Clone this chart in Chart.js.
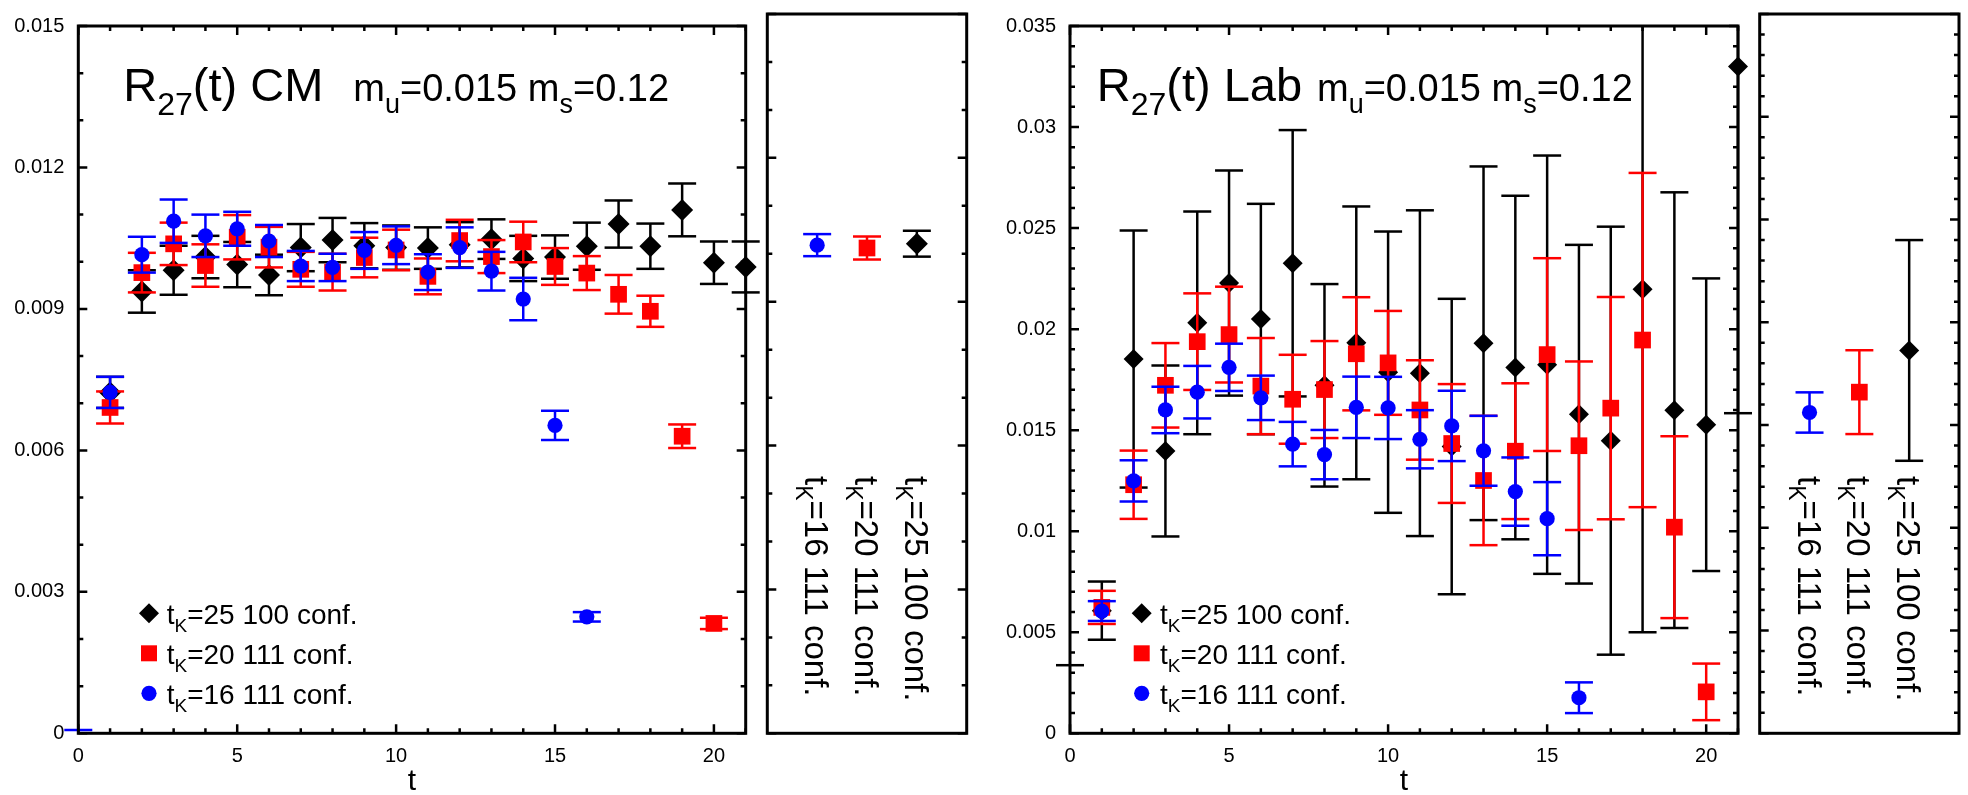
<!DOCTYPE html>
<html><head><meta charset="utf-8">
<script src="https://cdn.jsdelivr.net/npm/chart.js@4.4.1/dist/chart.umd.min.js"></script>
<style>
html,body{margin:0;padding:0;background:#ffffff;}
#wrap{position:relative;width:1968px;height:795px;overflow:hidden;}
#wrap canvas{position:absolute;left:0;top:0;}
</style></head><body>
<div id="wrap">
<canvas id="cmMain" width="1968" height="795"></canvas>
<canvas id="cmSide" width="1968" height="795"></canvas>
<canvas id="labMain" width="1968" height="795"></canvas>
<canvas id="labSide" width="1968" height="795"></canvas>
</div>
<script>
// ---------------- data ----------------
const tValues = [0,1,2,3,4,5,6,7,8,9,10,11,12,13,14,15,16,17,18,19,20,21];
const seriesNames = ["t_K=25 100 conf.", "t_K=20 111 conf.", "t_K=16 111 conf."];

// R27(t) CM, m_u=0.015 m_s=0.12
const cmTk25Val = [null,0.00723,0.00937,0.00982,0.0101,0.00994,0.00972,0.0103,0.01046,0.01034,0.0103,0.01029,0.01036,0.01048,0.01007,0.0101,0.01033,0.0108,0.01033,0.0111,0.00998,0.00989];
const cmTk25Err = [null,0.00033,0.00045,0.00052,0.00045,0.00048,0.00043,0.0005,0.00047,0.00048,0.00047,0.00044,0.00048,0.00042,0.00048,0.00046,0.0005,0.0005,0.00048,0.00056,0.00045,0.00054];
const cmTk20Val = [null,0.00691,0.00977,0.01038,0.00992,0.01052,0.01031,0.00984,0.00978,0.01009,0.01025,0.00969,0.01045,0.01011,0.01042,0.0099,0.00976,0.00931,0.00895,0.0063,0.00233,null];
const cmTk20Err = [null,0.00034,0.00042,0.00045,0.00045,0.00047,0.00043,0.00037,0.00039,0.00042,0.00043,0.00038,0.00044,0.00035,0.00043,0.00039,0.00036,0.00041,0.00033,0.00025,0.00012,null];
const cmTk16Val = [null,0.00723,0.01015,0.01086,0.01055,0.0107,0.01044,0.00991,0.00988,0.01024,0.01035,0.00978,0.0103,0.0098,0.00921,0.00653,0.00247,null,null,null,null,null];
const cmTk16Err = [null,0.00033,0.00038,0.00046,0.00045,0.00036,0.00034,0.00032,0.00029,0.00039,0.0004,0.00038,0.00043,0.00041,0.00045,0.00031,0.0001,null,null,null,null,null];
// upper error caps of off-scale points (marker below the axis)
const cmTk16OffscaleT = [0];
const cmTk16OffscaleHi = [0.00007];

// fit results (side panel): order tK=16, tK=20, tK=25
const sidePositions = [1, 2, 3];
const sideLabels = ["t_K=16 111 conf.", "t_K=20 111 conf.", "t_K=25 100 conf."];
const cmFitVal = [0.01018, 0.01012, 0.01021];
const cmFitErr = [0.00023, 0.00024, 0.00027];

// R27(t) Lab, m_u=0.015 m_s=0.12
const labTk25Val = [null,0.00607,0.01852,0.01397,0.02031,0.02228,0.0205,0.02326,0.01722,0.01932,0.01787,0.01782,0.01419,0.0193,0.0181,0.01824,0.01579,0.01448,0.02197,0.01599,0.01527,0.033];
const labTk25Err = [null,0.00144,0.00636,0.00423,0.00551,0.00557,0.0057,0.00659,0.00501,0.00675,0.00696,0.00806,0.00731,0.00875,0.0085,0.01035,0.00838,0.01059,0.01697,0.01078,0.00724,0.01716];
const labTk20Val = [null,0.00623,0.0123,0.01722,0.01938,0.01973,0.01718,0.01653,0.01701,0.01878,0.01833,0.016,0.01434,0.01251,0.01396,0.01874,0.01423,0.01609,0.01946,0.0102,0.00205,null];
const labTk20Err = [null,0.00082,0.00169,0.00209,0.00239,0.00237,0.00238,0.0022,0.0024,0.0028,0.00257,0.00246,0.00294,0.0032,0.00336,0.00477,0.00417,0.0055,0.00827,0.0045,0.0014,null];
const labTk16Val = [null,0.00605,0.01249,0.016,0.01688,0.01811,0.0166,0.01431,0.01379,0.01613,0.0161,0.01455,0.01521,0.01398,0.01196,0.01062,0.00176,null,null,null,null,null];
const labTk16Err = [null,0.00049,0.00102,0.00115,0.0013,0.00117,0.0011,0.0011,0.00122,0.00152,0.00154,0.00144,0.00174,0.00173,0.00169,0.00181,0.00076,null,null,null,null,null];
const labTk25OffscaleT = [0];
const labTk25OffscaleHi = [0.00337];
const labFitVal = [0.01561, 0.0166, 0.01863];
const labFitErr = [0.00098, 0.00204, 0.00537];

// axes
const xTickVals = [0, 5, 10, 15, 20];
const xTickLabels = ["0", "5", "10", "15", "20"];
const cmYTickVals = [0, 0.003, 0.006, 0.009, 0.012, 0.015];
const cmYTickLabels = ["0", "0.003", "0.006", "0.009", "0.012", "0.015"];
const labYTickVals = [0, 0.005, 0.01, 0.015, 0.02, 0.025, 0.03, 0.035];
const labYTickLabels = ["0", "0.005", "0.01", "0.015", "0.02", "0.025", "0.03", "0.035"];

// ---------------- drawing ----------------
const FONT = '"Liberation Sans", Arial, Helvetica, sans-serif';
const BLACK = '#000000', RED = '#ff0000', BLUE = '#0000ff';
const W = 1968, H = 795;

function pts(xs, vals, errs) {
  const out = [];
  xs.forEach((x, i) => { if (vals[i] !== null && vals[i] !== undefined) out.push({x: x, y: vals[i], e: errs[i]}); });
  return out;
}

function richText(ctx, x, y, parts) {
  let cx = x;
  for (const p of parts) {
    ctx.font = p.size + 'px ' + FONT;
    ctx.fillText(p.t, cx, y + (p.dy || 0));
    cx += ctx.measureText(p.t).width;
  }
  return cx;
}
function subParts(label, size, subSize, dy) {
  const m = label.match(/^(.*?)_(.)(.*)$/);
  return [{t: m[1], size: size}, {t: m[2], size: subSize, dy: dy}, {t: m[3], size: size}];
}

function marker(ctx, style, x, y, r, color) {
  ctx.save();
  ctx.fillStyle = color;
  ctx.beginPath();
  if (style === 'rectRot') {
    ctx.moveTo(x, y - r); ctx.lineTo(x + r, y); ctx.lineTo(x, y + r); ctx.lineTo(x - r, y); ctx.closePath();
  } else if (style === 'rect') {
    ctx.rect(x - r, y - r, 2 * r, 2 * r);
  } else {
    ctx.arc(x, y, r, 0, Math.PI * 2);
  }
  ctx.fill();
  ctx.restore();
}

const CAP = 14;
const errorBarPlugin = {
  id: 'errorBars',
  beforeDatasetDraw(chart, args) {
    const ds = chart.data.datasets[args.index];
    const ctx = chart.ctx, xs = chart.scales.x, ys = chart.scales.y, a = chart.chartArea;
    ctx.save();
    ctx.strokeStyle = ds.errColor;
    ctx.lineWidth = 2.5;
    const capAt = (px, py) => { ctx.beginPath(); ctx.moveTo(px - CAP, py); ctx.lineTo(px + CAP, py); ctx.stroke(); };
    ds.data.forEach(p => {
      if (p.e === null || p.e === undefined) return;
      const px = xs.getPixelForValue(p.x);
      const yHi = ys.getPixelForValue(p.y + p.e), yLo = ys.getPixelForValue(p.y - p.e);
      const top = Math.max(yHi, a.top), bot = Math.min(yLo, a.bottom);
      if (bot > top) { ctx.beginPath(); ctx.moveTo(px, top); ctx.lineTo(px, bot); ctx.stroke(); }
      if (yHi >= a.top - 0.5) capAt(px, yHi);
      if (yLo <= a.bottom + 0.5) capAt(px, yLo);
    });
    (ds.offscaleT || []).forEach((t, i) => {
      capAt(xs.getPixelForValue(t), ys.getPixelForValue(ds.offscaleHi[i]));
    });
    ctx.restore();
  }
};

function framePlugin(o) {
  return {
    id: 'frame_' + o.id,
    afterDraw(chart) {
      const ctx = chart.ctx, a = chart.chartArea, xs = chart.scales.x, ys = chart.scales.y;
      ctx.save();
      ctx.strokeStyle = BLACK;
      ctx.lineWidth = 2.5;
      const nMinor = Math.round(o.yMax / o.yMinor);
      const per = Math.round(o.yMajor / o.yMinor);
      for (let k = 0; k <= nMinor; k++) {
        const py = ys.getPixelForValue(k * o.yMinor);
        const L = (k % per === 0) ? 9 : 5;
        ctx.beginPath();
        ctx.moveTo(a.left, py); ctx.lineTo(a.left + L, py);
        ctx.moveTo(a.right, py); ctx.lineTo(a.right - L, py);
        ctx.stroke();
      }
      if (o.xTicks) {
        for (let t = 0; t <= 21; t++) {
          const px = xs.getPixelForValue(t);
          const L = (t % 5 === 0) ? 9 : 5;
          ctx.beginPath();
          ctx.moveTo(px, a.bottom); ctx.lineTo(px, a.bottom - L);
          ctx.moveTo(px, a.top); ctx.lineTo(px, a.top + L);
          ctx.stroke();
        }
      }
      ctx.lineWidth = 3;
      ctx.strokeRect(a.left, a.top, a.right - a.left, a.bottom - a.top);
      ctx.fillStyle = BLACK;
      ctx.textAlign = 'left';
      ctx.textBaseline = 'alphabetic';
      if (o.title) {
        richText(ctx, a.left + o.title.x1, a.top + 75.3, o.title.p1);
        richText(ctx, a.left + o.title.x2, a.top + 75.3, o.title.p2);
      }
      if (o.xTitle) {
        ctx.font = '30px ' + FONT;
        ctx.textAlign = 'center';
        ctx.fillText('t', (a.left + a.right) / 2, a.bottom + 57);
        ctx.textAlign = 'left';
      }
      if (o.legend) {
        const styles = [['rectRot', 10, BLACK], ['rect', 8, RED], ['circle', 7.6, BLUE]];
        seriesNames.forEach((nm, i) => {
          const cy = a.bottom - 120 + 40 * i;
          marker(ctx, styles[i][0], a.left + o.legend.mx, cy, styles[i][1], styles[i][2]);
          ctx.fillStyle = BLACK;
          richText(ctx, a.left + o.legend.tx, cy + 10.5, subParts(nm, 28, 19, 8));
        });
      }
      if (o.sideText) {
        sideLabels.forEach((lab, i) => {
          const px = xs.getPixelForValue(sidePositions[i]);
          ctx.save();
          ctx.translate(px - 12, a.top + 462);
          ctx.rotate(Math.PI / 2);
          ctx.fillStyle = BLACK;
          richText(ctx, 0, 0, subParts(lab, 33, 23, 9));
          ctx.restore();
        });
      }
      ctx.restore();
    }
  };
}

function ds(label, data, style, radius, color, order, extra) {
  return Object.assign({
    label: label, data: data,
    pointStyle: style, pointRadius: radius, pointHoverRadius: radius,
    backgroundColor: color, borderColor: color,
    pointBackgroundColor: color, pointBorderColor: color, pointBorderWidth: 0,
    order: order, clip: false, errColor: color
  }, extra || {});
}

function baseOptions(pad, xScale, yScale) {
  return {
    responsive: false, animation: false, devicePixelRatio: 1,
    events: [],
    layout: {autoPadding: false, padding: pad},
    plugins: {legend: {display: false}, tooltip: {enabled: false}},
    scales: {x: xScale, y: yScale}
  };
}

function mainChart(id, o) {
  const datasets = [
    ds(seriesNames[0], pts(tValues, o.v25, o.e25), 'rectRot', o.diamond, BLACK, 3, o.extra25),
    ds(seriesNames[1], pts(tValues, o.v20, o.e20), 'rect', 11.8, RED, 2, o.extra20),
    ds(seriesNames[2], pts(tValues, o.v16, o.e16), 'circle', 7.6, BLUE, 1, o.extra16)
  ];
  const xScale = {
    type: 'linear', min: 0, max: 21,
    afterFit: s => { s.height = 61.7; },
    afterBuildTicks: s => { s.ticks = xTickVals.map(v => ({value: v})); },
    grid: {display: false, drawTicks: false}, border: {display: false},
    ticks: {autoSkip: false, maxRotation: 0, padding: 11, color: BLACK, font: {family: FONT, size: 20},
      callback: (v, i) => xTickLabels[i]}
  };
  const yScale = {
    type: 'linear', min: 0, max: o.yMax,
    afterFit: s => { s.width = 78.3; },
    afterBuildTicks: s => { s.ticks = o.yTicks.map(v => ({value: v})); },
    grid: {display: false, drawTicks: false}, border: {display: false},
    ticks: {autoSkip: false, padding: 14, color: BLACK, font: {family: FONT, size: 20},
      callback: (v, i) => o.yLabels[i]}
  };
  return new Chart(document.getElementById(id), {
    type: 'scatter',
    data: {datasets: datasets},
    options: baseOptions(o.pad, xScale, yScale),
    plugins: [errorBarPlugin, framePlugin(o.frame)]
  });
}

function sideChart(id, o) {
  const datasets = [
    ds(sideLabels[0], [{x: sidePositions[0], y: o.val[0], e: o.err[0]}], 'circle', 7.6, BLUE, 1),
    ds(sideLabels[1], [{x: sidePositions[1], y: o.val[1], e: o.err[1]}], 'rect', 11.8, RED, 2),
    ds(sideLabels[2], [{x: sidePositions[2], y: o.val[2], e: o.err[2]}], 'rectRot', o.diamond, BLACK, 3)
  ];
  const xScale = {type: 'linear', min: 0, max: 4, display: false};
  const yScale = {type: 'linear', min: 0, max: o.yMax, display: false};
  return new Chart(document.getElementById(id), {
    type: 'scatter',
    data: {datasets: datasets},
    options: baseOptions(o.pad, xScale, yScale),
    plugins: [errorBarPlugin, framePlugin(o.frame)]
  });
}

const cmTitle = {
  x1: 45, x2: 275,
  p1: [{t: 'R', size: 47}, {t: '27', size: 32, dy: 14}, {t: '(t) CM', size: 47}],
  p2: [{t: 'm', size: 38}, {t: 'u', size: 27, dy: 12}, {t: '=0.015 m', size: 38}, {t: 's', size: 27, dy: 12}, {t: '=0.12', size: 38}]
};
const labTitle = {
  x1: 26.7, x2: 247,
  p1: [{t: 'R', size: 47}, {t: '27', size: 32, dy: 14}, {t: '(t) Lab', size: 47}],
  p2: cmTitle.p2
};

mainChart('cmMain', {
  v25: cmTk25Val, e25: cmTk25Err, v20: cmTk20Val, e20: cmTk20Err, v16: cmTk16Val, e16: cmTk16Err,
  extra16: {offscaleT: cmTk16OffscaleT, offscaleHi: cmTk16OffscaleHi},
  diamond: 11, yMax: 0.015, yTicks: cmYTickVals, yLabels: cmYTickLabels,
  pad: {left: 0, right: W - 745.7, top: 14, bottom: 0},
  frame: {id: 'cmMain', yMax: 0.015, yMinor: 0.001, yMajor: 0.003, xTicks: true, title: cmTitle, xTitle: true,
    legend: {mx: 70.7, tx: 88.4}}
});
sideChart('cmSide', {
  val: cmFitVal, err: cmFitErr, diamond: 11, yMax: 0.015,
  pad: {left: 767.3, right: W - 966.7, top: 14, bottom: H - 733.3},
  frame: {id: 'cmSide', yMax: 0.015, yMinor: 0.001, yMajor: 0.003, xTicks: false, sideText: true}
});
mainChart('labMain', {
  v25: labTk25Val, e25: labTk25Err, v20: labTk20Val, e20: labTk20Err, v16: labTk16Val, e16: labTk16Err,
  extra25: {offscaleT: labTk25OffscaleT, offscaleHi: labTk25OffscaleHi},
  diamond: 10, yMax: 0.035, yTicks: labYTickVals, yLabels: labYTickLabels,
  pad: {left: 1070 - 78.3, right: W - 1738, top: 14, bottom: 0},
  frame: {id: 'labMain', yMax: 0.035, yMinor: 0.001, yMajor: 0.005, xTicks: true, title: labTitle, xTitle: true,
    legend: {mx: 71.7, tx: 90}}
});
sideChart('labSide', {
  val: labFitVal, err: labFitErr, diamond: 10, yMax: 0.035,
  pad: {left: 1759.7, right: W - 1959, top: 14, bottom: H - 733.3},
  frame: {id: 'labSide', yMax: 0.035, yMinor: 0.001, yMajor: 0.005, xTicks: false, sideText: true}
});
</script>
</body></html>
